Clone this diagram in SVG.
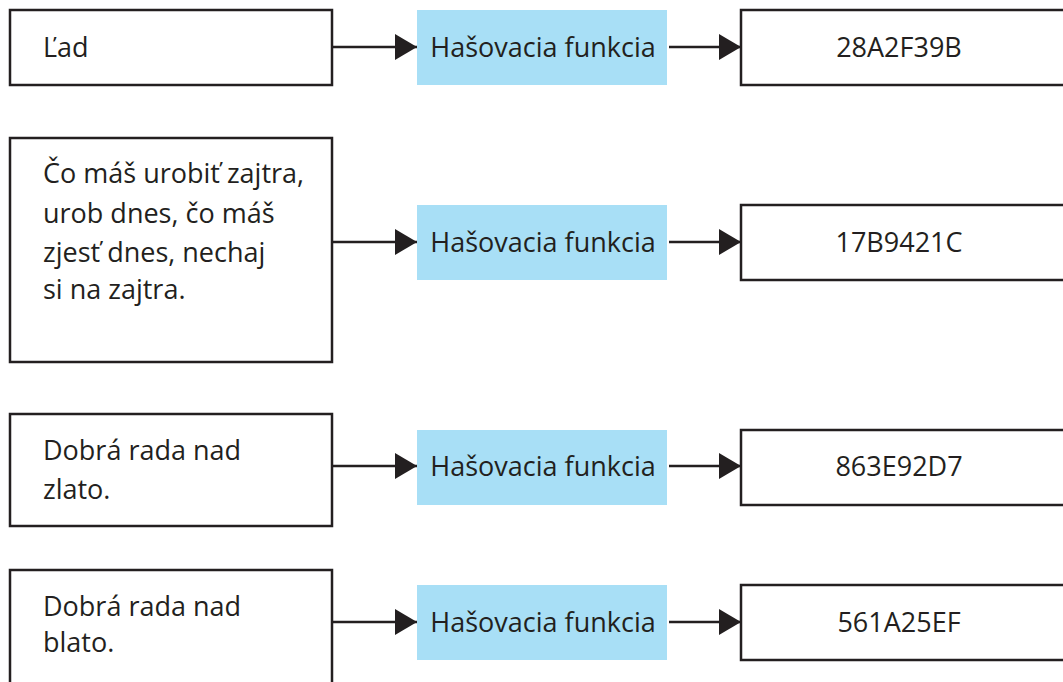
<svg xmlns="http://www.w3.org/2000/svg" width="1063" height="682" viewBox="0 0 1063 682">
<style>
.box{fill:#fff;stroke:#231f20;stroke-width:2.5}
.hash{fill:#a8dff6}
.t{font-family:"Open Sans","Noto Sans",sans-serif;font-size:27px;fill:#231f20}
.c{text-anchor:middle}
.ln{stroke:#231f20;stroke-width:2.5;fill:none}
</style>
<defs>
<marker id="ah" markerWidth="22" markerHeight="26" refX="22" refY="13" orient="auto" markerUnits="userSpaceOnUse">
<path d="M0,0 L22,13 L0,26 Z" fill="#231f20"/>
</marker>
</defs>
<rect width="1063" height="682" fill="#fff"/>
<g id="connectors">
<line class="ln" x1="333" y1="47" x2="417" y2="47" marker-end="url(#ah)"/>
<line class="ln" x1="669" y1="47" x2="741" y2="47" marker-end="url(#ah)"/>
<line class="ln" x1="333" y1="242" x2="417" y2="242" marker-end="url(#ah)"/>
<line class="ln" x1="669" y1="242" x2="741" y2="242" marker-end="url(#ah)"/>
<line class="ln" x1="333" y1="466" x2="417" y2="466" marker-end="url(#ah)"/>
<line class="ln" x1="669" y1="466" x2="741" y2="466" marker-end="url(#ah)"/>
<line class="ln" x1="333" y1="622" x2="417" y2="622" marker-end="url(#ah)"/>
<line class="ln" x1="669" y1="622" x2="741" y2="622" marker-end="url(#ah)"/>
</g>
<g id="in1"><rect class="box" x="10" y="10" width="322" height="75"/><text class="t" x="43" y="57">Ľad</text></g>
<g id="h1"><rect class="hash" x="417" y="10" width="250" height="75"/><text class="t c" x="543" y="57">Hašovacia funkcia</text></g>
<g id="out1"><rect class="box" x="741" y="10" width="330" height="75"/><text class="t c" x="899" y="57">28A2F39B</text></g>
<g id="in2"><rect class="box" x="10" y="138" width="322" height="224"/>
<text class="t" x="43" y="183">Čo máš urobiť zajtra,</text>
<text class="t" x="43" y="223">urob dnes, čo máš</text>
<text class="t" x="43" y="262">zjesť dnes, nechaj</text>
<text class="t" x="43" y="299">si na zajtra.</text></g>
<g id="h2"><rect class="hash" x="417" y="205" width="250" height="75"/><text class="t c" x="543" y="252">Hašovacia funkcia</text></g>
<g id="out2"><rect class="box" x="741" y="205" width="330" height="75"/><text class="t c" x="899" y="252">17B9421C</text></g>
<g id="in3"><rect class="box" x="10" y="414" width="322" height="112"/>
<text class="t" x="43" y="460">Dobrá rada nad</text>
<text class="t" x="43" y="499">zlato.</text></g>
<g id="h3"><rect class="hash" x="417" y="430" width="250" height="75"/><text class="t c" x="543" y="476">Hašovacia funkcia</text></g>
<g id="out3"><rect class="box" x="741" y="430" width="330" height="75"/><text class="t c" x="899" y="476">863E92D7</text></g>
<g id="in4"><rect class="box" x="10" y="570" width="322" height="130"/>
<text class="t" x="43" y="616">Dobrá rada nad</text>
<text class="t" x="43" y="652">blato.</text></g>
<g id="h4"><rect class="hash" x="417" y="585" width="250" height="75"/><text class="t c" x="543" y="632">Hašovacia funkcia</text></g>
<g id="out4"><rect class="box" x="741" y="585" width="330" height="75"/><text class="t c" x="899" y="632">561A25EF</text></g>
</svg>
